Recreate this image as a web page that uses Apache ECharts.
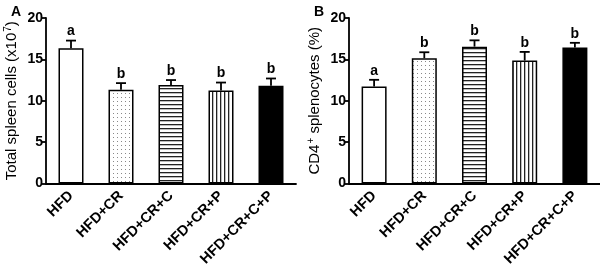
<!DOCTYPE html>
<html>
<head>
<meta charset="utf-8">
<script src="https://cdn.jsdelivr.net/npm/echarts@6/dist/echarts.min.js"></script>
<style>
  html, body { margin: 0; padding: 0; background: #fff; }
  #main { width: 600px; height: 269px; }
</style>
</head>
<body>
<div id="main"></div>
<script>
var groups = ['HFD', 'HFD+CR', 'HFD+CR+C', 'HFD+CR+P', 'HFD+CR+C+P'];
var yTicks = [0, 5, 10, 15, 20];

// panel A: total spleen cells (x10^7)
var meanA = [16.35, 11.33, 11.9, 11.24, 11.8];
var upperA = [17.27, 12.13, 12.5, 12.2, 12.69];
var lettersA = ['a', 'b', 'b', 'b', 'b'];

// panel B: CD4+ splenocytes (%)
var meanB = [11.72, 15.14, 16.54, 14.86, 16.42];
var upperB = [12.53, 15.86, 17.3, 15.9, 17.0];
var lettersB = ['a', 'b', 'b', 'b', 'b'];

var myChart = echarts.init(document.getElementById('main'));
var FONT = '"Liberation Sans", Arial, sans-serif';

function makePattern(kind) {
    var c = document.createElement('canvas');
    c.width = 4; c.height = 4;
    var ctx = c.getContext('2d');
    ctx.fillStyle = '#fff';
    ctx.fillRect(0, 0, 4, 4);
    if (kind === 'dots') {
        ctx.fillStyle = '#888';
        ctx.fillRect(1, 1, 1, 1);
    } else if (kind === 'hlines') {
        ctx.fillStyle = '#222';
        ctx.fillRect(0, 0, 4, 1.3);
    } else if (kind === 'vlines') {
        ctx.fillStyle = '#222';
        ctx.fillRect(0, 0, 1.3, 4);
    }
    return { image: c, repeat: 'repeat' };
}
var fills = ['#fff', makePattern('dots'), makePattern('hlines'), makePattern('vlines'), '#000'];

function barData(vals) {
    return vals.map(function (v, i) {
        return { value: v, itemStyle: { color: fills[i] } };
    });
}

function errData(mean, upper, letters) {
    return mean.map(function (v, i) { return [i, v, upper[i], letters[i]]; });
}

function renderErr(params, api) {
    var x = api.value(0);
    var p0 = api.coord([x, api.value(1)]);
    var p1 = api.coord([x, api.value(2)]);
    var half = 5;
    var st = { stroke: '#000', lineWidth: 1.8 };
    return {
        type: 'group',
        children: [
            { type: 'line', shape: { x1: p0[0], y1: p0[1], x2: p1[0], y2: p1[1] }, style: st },
            { type: 'line', shape: { x1: p1[0] - half, y1: p1[1], x2: p1[0] + half, y2: p1[1] }, style: st },
            { type: 'text', style: { text: api.value(3), x: p1[0], y: p1[1] - 2, align: 'center', verticalAlign: 'bottom',
                font: 'bold 14px ' + FONT, fill: '#000' } }
        ]
    };
}

function xAxisCfg(gi) {
    return {
        type: 'category', gridIndex: gi, data: groups,
        axisLine: { lineStyle: { color: '#000', width: 1.8 } },
        axisTick: { alignWithLabel: true, length: 5, lineStyle: { color: '#000', width: 1.8 } },
        axisLabel: { rotate: 45, margin: 10, color: '#000', fontWeight: 'bold', fontSize: 14.5, fontFamily: FONT, interval: 0 }
    };
}

function yAxisCfg(gi, nameRich) {
    return {
        type: 'value', gridIndex: gi, min: 0, max: 20, interval: 5,
        name: nameRich, nameLocation: 'middle', nameGap: 25, nameRotate: 90,
        nameTextStyle: {
            color: '#000', fontSize: 15, fontFamily: FONT,
            rich: {
                t: { fontSize: 15, fontFamily: FONT, color: '#000' },
                s: { fontSize: 10, fontFamily: FONT, color: '#000', verticalAlign: 'top', padding: [0, 0, 8, 1] }
            }
        },
        axisLine: { show: true, lineStyle: { color: '#000', width: 1.8 } },
        axisTick: { show: true, length: 5, lineStyle: { color: '#000', width: 1.8 } },
        axisLabel: { color: '#000', fontWeight: 'bold', fontSize: 14, fontFamily: FONT, margin: 3,
            formatter: function (v) { return yTicks.indexOf(v) >= 0 ? String(v) : ''; } },
        splitLine: { show: false }
    };
}

var option = {
    animation: false,
    backgroundColor: '#fff',
    title: [
        { text: 'A', left: 6, top: 0, textStyle: { fontSize: 14, fontWeight: 'bold', fontFamily: FONT, color: '#000' } },
        { text: 'B', left: 309, top: 0, textStyle: { fontSize: 14, fontWeight: 'bold', fontFamily: FONT, color: '#000' } }
    ],
    grid: [
        { left: 46, top: 18, width: 250, height: 166 },
        { left: 349, top: 18, width: 251, height: 166 }
    ],
    xAxis: [xAxisCfg(0), xAxisCfg(1)],
    yAxis: [
        yAxisCfg(0, '{t|Total spleen cells (x10}{s|7}{t|)}'),
        yAxisCfg(1, '{t|CD4}{s|+}{t| splenocytes (%)}')
    ],
    series: [
        { type: 'bar', xAxisIndex: 0, yAxisIndex: 0, barWidth: 25, data: barData(meanA),
          itemStyle: { borderColor: '#000', borderWidth: 1.5 } },
        { type: 'custom', xAxisIndex: 0, yAxisIndex: 0, renderItem: renderErr, data: errData(meanA, upperA, lettersA), z: 1 },
        { type: 'bar', xAxisIndex: 1, yAxisIndex: 1, barWidth: 25, data: barData(meanB),
          itemStyle: { borderColor: '#000', borderWidth: 1.5 } },
        { type: 'custom', xAxisIndex: 1, yAxisIndex: 1, renderItem: renderErr, data: errData(meanB, upperB, lettersB), z: 1 }
    ]
};

myChart.setOption(option);
</script>
</body>
</html>
